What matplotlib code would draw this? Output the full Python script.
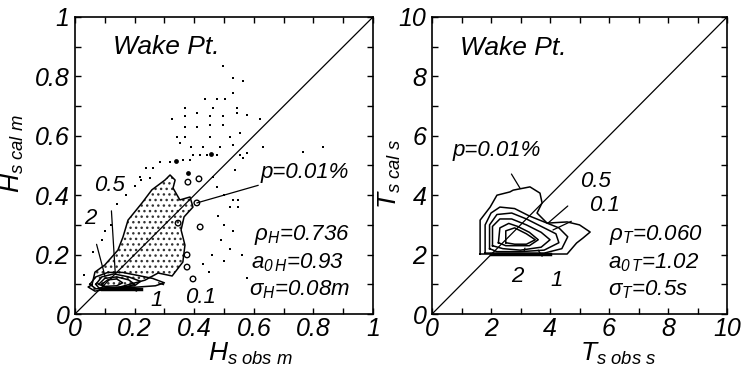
import matplotlib
matplotlib.use('Agg')
from matplotlib import pyplot as plt
import numpy as np

# Fuente tipo Helvetica cursiva
plt.rcParams['font.family'] = ['Liberation Sans', 'DejaVu Sans']
plt.rcParams['font.style'] = 'italic'
plt.rcParams['mathtext.fontset'] = 'custom'
plt.rcParams['mathtext.it'] = 'Liberation Sans:italic'
plt.rcParams['mathtext.rm'] = 'Liberation Sans:italic'
plt.rcParams['hatch.linewidth'] = 1.0

# ---------------- datos: Hs ----------------
h_ticks = [0, 0.2, 0.4, 0.6, 0.8, 1]
h_labels = ['0', '0.2', '0.4', '0.6', '0.8', '1']

# contorno p=0.01%
h_c001_x = [0.057, 0.067, 0.10, 0.144, 0.161, 0.178, 0.225, 0.258, 0.302, 0.319, 0.336,
            0.329, 0.352, 0.386, 0.396, 0.366, 0.356, 0.369, 0.362, 0.326, 0.279, 0.235,
            0.151, 0.067, 0.044, 0.057]
h_c001_y = [0.098, 0.141, 0.165, 0.215, 0.259, 0.316, 0.374, 0.418, 0.451, 0.468, 0.451,
            0.424, 0.384, 0.394, 0.360, 0.327, 0.283, 0.232, 0.175, 0.128, 0.138, 0.114,
            0.091, 0.077, 0.091, 0.098]
h_c01_x = [0.05, 0.07, 0.11, 0.16, 0.21, 0.26, 0.30, 0.27, 0.20, 0.12, 0.07, 0.05]
h_c01_y = [0.10, 0.125, 0.14, 0.14, 0.13, 0.12, 0.105, 0.095, 0.09, 0.085, 0.085, 0.10]
h_c05_x = [0.07, 0.09, 0.13, 0.18, 0.22, 0.20, 0.13, 0.08, 0.07]
h_c05_y = [0.10, 0.125, 0.135, 0.125, 0.11, 0.095, 0.088, 0.088, 0.10]
h_c1_x = [0.08, 0.10, 0.14, 0.18, 0.20, 0.17, 0.11, 0.08]
h_c1_y = [0.10, 0.12, 0.125, 0.115, 0.10, 0.09, 0.088, 0.10]
h_c2_x = [0.09, 0.11, 0.14, 0.16, 0.14, 0.10, 0.09]
h_c2_y = [0.10, 0.115, 0.118, 0.105, 0.095, 0.093, 0.10]
h_base_x = [0.09, 0.22]
h_base_y = [0.085, 0.085]

# islas pequeñas del contorno exterior
h_isla_x = [0.416, 0.379, 0.42, 0.346, 0.376, 0.376, 0.396, 0.409]
h_isla_y = [0.455, 0.444, 0.293, 0.306, 0.199, 0.158, 0.118, 0.374]

# puntos dispersos
h_pts_x = [0.498, 0.531, 0.565, 0.531, 0.436, 0.475, 0.503, 0.369, 0.464, 0.543, 0.324,
           0.369, 0.408, 0.453, 0.498, 0.543, 0.576, 0.621, 0.369, 0.408, 0.453, 0.498,
           0.554, 0.341, 0.369, 0.453, 0.520, 0.632, 0.766, 0.833, 0.352, 0.391, 0.431,
           0.487, 0.531, 0.397, 0.419, 0.442, 0.475, 0.554, 0.285, 0.319, 0.363, 0.386,
           0.24, 0.263, 0.218, 0.252, 0.577, 0.564, 0.537, 0.53, 0.547, 0.547, 0.476,
           0.463, 0.50, 0.52, 0.48, 0.50, 0.53, 0.49, 0.52, 0.46, 0.43, 0.45, 0.50, 0.56,
           0.577, 0.03, 0.06, 0.09, 0.12, 0.14, 0.17, 0.20, 0.22, 0.10]
h_pts_y = [0.834, 0.793, 0.784, 0.745, 0.724, 0.724, 0.724, 0.693, 0.693, 0.693, 0.656,
           0.665, 0.676, 0.665, 0.665, 0.676, 0.670, 0.656, 0.631, 0.631, 0.636, 0.636,
           0.608, 0.597, 0.597, 0.597, 0.597, 0.563, 0.546, 0.563, 0.575, 0.563, 0.563,
           0.563, 0.569, 0.535, 0.535, 0.535, 0.535, 0.535, 0.513, 0.513, 0.519, 0.519,
           0.49, 0.49, 0.462, 0.457, 0.541, 0.525, 0.485, 0.384, 0.384, 0.36, 0.428,
           0.461, 0.40, 0.36, 0.33, 0.30, 0.28, 0.25, 0.22, 0.20, 0.17, 0.14, 0.18, 0.20,
           0.121, 0.13, 0.21, 0.25, 0.30, 0.37, 0.40, 0.43, 0.45, 0.28]
h_big_x = [0.456, 0.339, 0.38]
h_big_y = [0.539, 0.515, 0.475]

# ---------------- datos: Ts ----------------
t_ticks = [0, 2, 4, 6, 8, 10]
t_labels = ['0', '2', '4', '6', '8', '10']

t_c001_x = [1.63, 1.63, 1.97, 2.2, 2.64, 2.75, 3.32, 3.66, 3.73, 3.56, 3.9, 4.58, 5.0,
            5.36, 5.12, 4.9, 4.58, 1.63]
t_c001_y = [2.02, 3.16, 3.6, 4.0, 4.11, 4.17, 4.28, 4.07, 3.74, 3.4, 3.06, 3.1, 3.0,
            2.76, 2.56, 2.39, 2.02, 2.02]
t_c01_x = [1.8, 1.8, 2.0, 2.3, 2.8, 3.3, 3.8, 4.3, 4.6, 4.4, 3.8, 1.8]
t_c01_y = [2.05, 3.0, 3.4, 3.6, 3.55, 3.3, 3.1, 2.9, 2.6, 2.2, 2.05, 2.05]
t_c05_x = [1.95, 1.95, 2.2, 2.7, 3.2, 3.7, 4.2, 4.3, 3.8, 3.0, 2.2, 1.95]
t_c05_y = [2.2, 3.0, 3.35, 3.4, 3.2, 2.95, 2.7, 2.4, 2.15, 2.1, 2.1, 2.2]
t_c1_x = [2.05, 2.05, 2.3, 2.7, 3.2, 3.7, 4.0, 3.7, 3.0, 2.4, 2.05]
t_c1_y = [2.3, 2.95, 3.2, 3.2, 3.0, 2.75, 2.5, 2.25, 2.15, 2.2, 2.3]
t_c2_x = [2.25, 2.3, 2.6, 2.9, 3.3, 3.6, 3.3, 2.8, 2.5, 2.25]
t_c2_y = [2.4, 2.9, 3.05, 2.95, 2.75, 2.5, 2.3, 2.3, 2.3, 2.4]
t_c3_x = [2.5, 2.5, 2.8, 3.2, 3.5, 3.2, 2.8, 2.5]
t_c3_y = [2.4, 2.8, 2.9, 2.7, 2.5, 2.35, 2.35, 2.4]
t_base_x = [2.0, 4.0]
t_base_y = [2.03, 2.03]

# figura
fig = plt.figure(figsize=(7.52, 3.67), dpi=100)
ax1 = fig.add_axes([0.0997, 0.1444, 0.3963, 0.8093])
ax2 = fig.add_axes([0.5745, 0.1444, 0.3923, 0.8093])

lw = 1.1
fs_tick = 18
fs_txt = 16
fs_lab = 19

def formato(ax, lim, ticks, labels, minor):
    ax.set_xlim(0, lim)
    ax.set_ylim(0, lim)
    ax.set_xticks(ticks)
    ax.set_xticklabels(labels)
    ax.set_yticks(ticks)
    ax.set_yticklabels(labels)
    ax.set_xticks(minor, minor=True)
    ax.set_yticks(minor, minor=True)
    ax.tick_params(which='both', direction='in', top=True, right=True, length=4,
                   width=1.0, labelsize=fs_tick)
    ax.tick_params(axis='x', pad=2)
    ax.tick_params(axis='y', pad=4)
    for s in ax.spines.values():
        s.set_linewidth(1.2)
    ax.plot([0, lim], [0, lim], color='black', lw=0.9)

# ---- panel Hs
formato(ax1, 1, h_ticks, h_labels, np.arange(0, 1.01, 0.1))
ax1.fill(h_c001_x, h_c001_y, facecolor='none', edgecolor='#333333', hatch='...', lw=0)
ax1.scatter(h_pts_x, h_pts_y, s=1.2, color='black', marker='s', linewidths=0)
ax1.scatter(h_big_x, h_big_y, s=12, color='black', linewidths=0)
ax1.scatter(h_isla_x, h_isla_y, s=16, facecolor='none', edgecolor='black', linewidths=1.0)
for xs, ys in [(h_c001_x, h_c001_y), (h_c01_x, h_c01_y), (h_c05_x, h_c05_y),
               (h_c1_x, h_c1_y), (h_c2_x, h_c2_y)]:
    ax1.plot(xs, ys, color='black', lw=lw)
ax1.plot(h_base_x, h_base_y, color='black', lw=2.5)

ax1.text(0.128, 0.90, 'Wake Pt.', fontsize=19, ha='left', va='center')
ax1.annotate('p=0.01%', xy=(0.409, 0.374), xytext=(0.622, 0.478), fontsize=fs_txt,
             va='center', ha='left', arrowprops=dict(arrowstyle='-', lw=0.9, shrinkA=0, shrinkB=0))
ax1.annotate('0.5', xy=(0.135, 0.14), xytext=(0.117, 0.434), fontsize=fs_txt,
             ha='center', va='center', arrowprops=dict(arrowstyle='-', lw=0.9, shrinkA=9, shrinkB=0))
ax1.annotate('2', xy=(0.10, 0.13), xytext=(0.05, 0.32), fontsize=fs_txt,
             ha='center', va='center', arrowprops=dict(arrowstyle='-', lw=0.9, shrinkA=9, shrinkB=0))
ax1.annotate('0.1', xy=(0.28, 0.105), xytext=(0.42, 0.054), fontsize=fs_txt,
             ha='center', va='center', arrowprops=dict(arrowstyle='-', lw=0.9, shrinkA=14, shrinkB=0))
ax1.annotate('1', xy=(0.19, 0.085), xytext=(0.275, 0.045), fontsize=fs_txt,
             ha='center', va='center', arrowprops=dict(arrowstyle='-', lw=0.9, shrinkA=9, shrinkB=0))
ax1.text(0.60, 0.266, r'$\rho_H$=0.736', fontsize=fs_txt, va='center')
ax1.text(0.59, 0.172, r'$a_{0\,H}$=0.93', fontsize=fs_txt, va='center')
ax1.text(0.585, 0.081, r'$\sigma_H$=0.08m', fontsize=fs_txt, va='center')

ax1.set_xlabel(r'$H_{s\ obs\ m}$', fontsize=fs_lab, labelpad=1)
ax1.xaxis.set_label_coords(0.59, -0.09)
ax1.set_ylabel(r'$H_{s\ cal\ m}$', fontsize=fs_lab, labelpad=1)
ax1.yaxis.set_label_coords(-0.165, 0.54)

# ---- panel Ts
formato(ax2, 10, t_ticks, t_labels, np.arange(0, 10.1, 1))
for xs, ys in [(t_c001_x, t_c001_y), (t_c01_x, t_c01_y), (t_c05_x, t_c05_y),
               (t_c1_x, t_c1_y), (t_c2_x, t_c2_y), (t_c3_x, t_c3_y)]:
    ax2.plot(xs, ys, color='black', lw=lw)
ax2.plot(t_base_x, t_base_y, color='black', lw=2.5)

ax2.text(0.95, 8.95, 'Wake Pt.', fontsize=19, ha='left', va='center')
ax2.annotate('p=0.01%', xy=(2.98, 4.24), xytext=(2.2, 5.52), fontsize=fs_txt,
             ha='center', va='center', arrowprops=dict(arrowstyle='-', lw=0.9, shrinkA=9, shrinkB=0))
ax2.annotate('0.5', xy=(3.93, 3.06), xytext=(5.55, 4.45), fontsize=fs_txt,
             ha='center', va='center', arrowprops=dict(arrowstyle='-', lw=0.9, shrinkA=12, shrinkB=0))
ax2.annotate('0.1', xy=(4.1, 2.83), xytext=(5.85, 3.65), fontsize=fs_txt,
             ha='center', va='center', arrowprops=dict(arrowstyle='-', lw=0.9, shrinkA=12, shrinkB=0))
ax2.annotate('2', xy=(3.15, 2.22), xytext=(2.88, 1.25), fontsize=fs_txt,
             ha='center', va='center', arrowprops=dict(arrowstyle='-', lw=0.9, shrinkA=9, shrinkB=0))
ax2.annotate('1', xy=(3.6, 2.15), xytext=(4.24, 1.14), fontsize=fs_txt,
             ha='center', va='center', arrowprops=dict(arrowstyle='-', lw=0.9, shrinkA=9, shrinkB=0))
ax2.text(6.0, 2.66, r'$\rho_T$=0.060', fontsize=fs_txt, va='center')
ax2.text(5.97, 1.72, r'$a_{0\,T}$=1.02', fontsize=fs_txt, va='center')
ax2.text(5.97, 0.81, r'$\sigma_T$=0.5s', fontsize=fs_txt, va='center')

ax2.set_xlabel(r'$T_{s\ obs\ s}$', fontsize=fs_lab, labelpad=1)
ax2.xaxis.set_label_coords(0.63, -0.09)
ax2.set_ylabel(r'$T_{s\ cal\ s}$', fontsize=fs_lab, labelpad=1)
ax2.yaxis.set_label_coords(-0.10, 0.47)

fig.savefig('out.png', dpi=100)
